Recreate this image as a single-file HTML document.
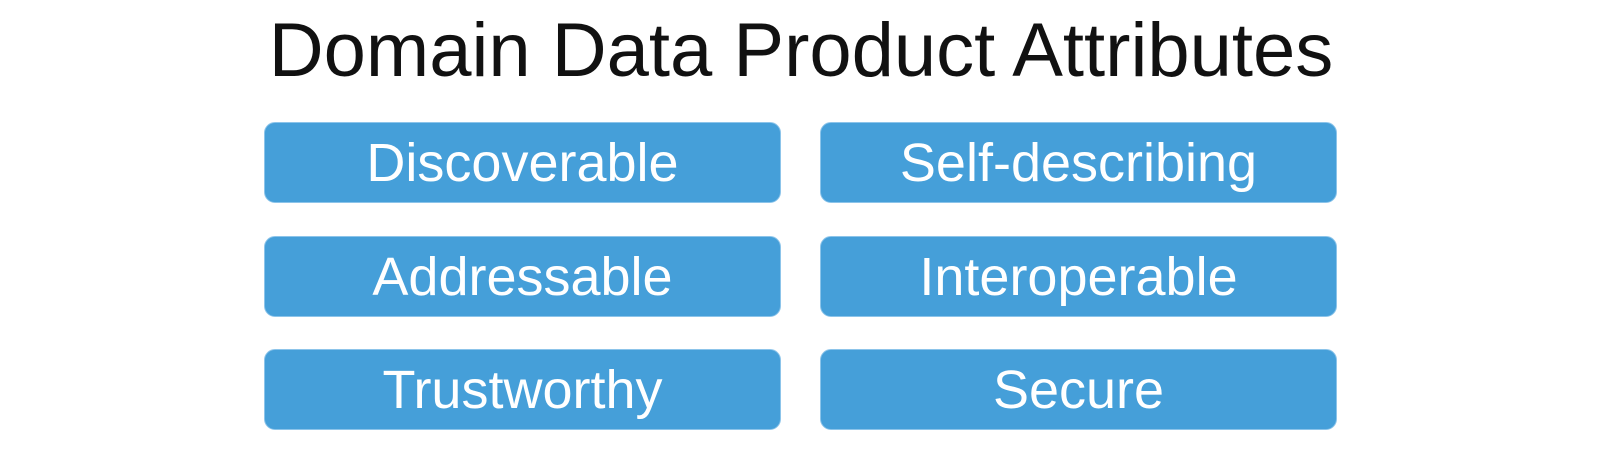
<!DOCTYPE html>
<html><head><style>
body{margin:0;width:1600px;height:457px;background:#fff;position:relative;overflow:hidden;font-family:"Liberation Sans",sans-serif}
.t{position:absolute;left:0;width:1602px;top:13px;line-height:76px;text-align:center;font-size:76px;color:#111;}
.b{position:absolute;width:517px;height:81px;background:#459fd9;border:1px solid #8cc4ea;border-radius:11px;box-sizing:border-box;color:#fff;font-size:54px;text-align:center;line-height:81px}
</style></head><body>
<div class="t">Domain Data Product Attributes</div>
<div class="b" style="left:264px;top:122px">Discoverable</div>
<div class="b" style="left:820px;top:122px">Self-describing</div>
<div class="b" style="left:264px;top:236px">Addressable</div>
<div class="b" style="left:820px;top:236px">Interoperable</div>
<div class="b" style="left:264px;top:349px">Trustworthy</div>
<div class="b" style="left:820px;top:349px">Secure</div>
</body></html>
